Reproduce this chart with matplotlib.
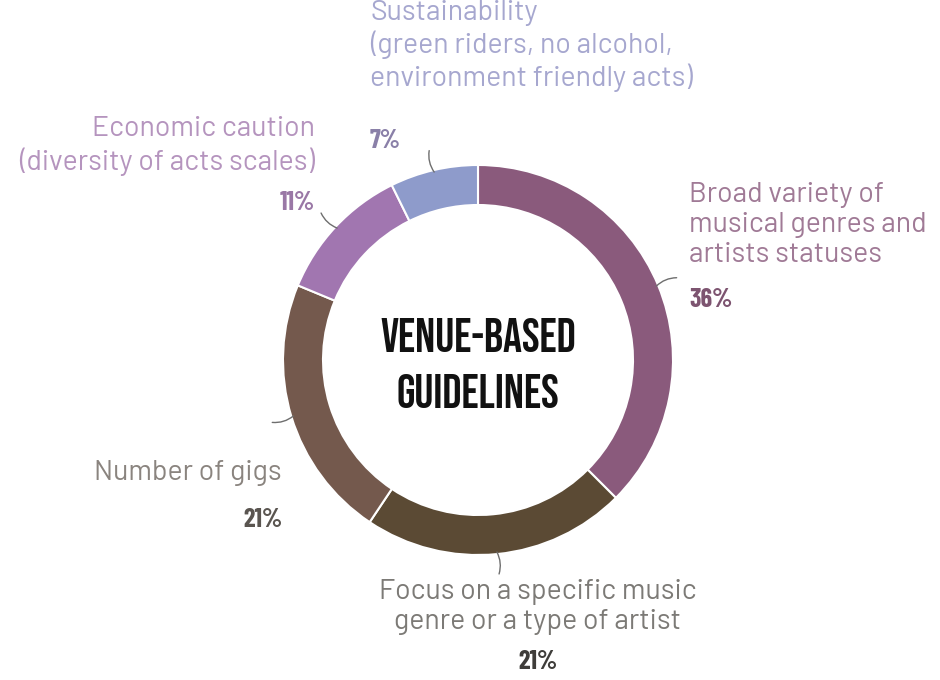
import matplotlib
matplotlib.use("Agg")
import matplotlib.pyplot as plt
import numpy as np

# Share of venue-based guidelines, clockwise from the top
labels = [
    "Broad variety of\nmusical genres and\nartists statuses",
    "Focus on a specific music\ngenre or a type of artist",
    "Number of gigs",
    "Economic caution\n(diversity of acts scales)",
    "Sustainability\n(green riders, no alcohol,\nenvironment friendly acts)",
]
values = [36, 21, 21, 11, 7]
wedge_colors = ["#8a5a7c", "#5b4a34", "#74594d", "#a176b0", "#8e9bcb"]
label_colors = ["#a07a96", "#7c7a76", "#8a847f", "#b594be", "#a6a7cf"]
pct_colors = ["#7d5470", "#3f3d3a", "#5a5550", "#9a78a6", "#8a80a8"]

W, H = 940, 680
fig = plt.figure(figsize=(W / 100, H / 100), dpi=100)
ax = fig.add_axes([0, 0, 1, 1])

cx, cy = 478, H - 360
R = 195
ring = 40

wedges, _ = ax.pie(
    values,
    colors=wedge_colors,
    startangle=90,
    counterclock=False,
    center=(cx, cy),
    radius=R,
    frame=True,
    wedgeprops=dict(width=ring, edgecolor="white", linewidth=1.5),
)
ax.set_xlim(0, W)
ax.set_ylim(0, H)
ax.set_aspect("equal")
ax.axis("off")

title_font = ["Bebas Neue", "Oswald", "DejaVu Sans"]
pct_font = ["Barlow Condensed", "Roboto Condensed", "DejaVu Sans"]
body_font = ["Barlow", "Roboto", "DejaVu Sans"]

ax.text(cx, cy - 3, "VENUE-BASED\nGUIDELINES", ha="center", va="center",
        family=title_font, fontsize=34, linespacing=1.62, color="#111111")

# label block centres and percentage positions, pixels from the top-left
anchors = [
    (689, 225, "left"),
    (538, 607, "center"),
    (282, 473, "right"),
    (315, 146, "right"),
    (370, 46, "left"),
]
pct_y = [300, 662, 520, 203, 141]

for w, lab, val, lc, pc, (x, y, ha), py in zip(
        wedges, labels, values, label_colors, pct_colors, anchors, pct_y):
    ax.text(x, H - y, lab, ha=ha, va="center", multialignment=ha,
            family=body_font, fontsize=20.5, color=lc, linespacing=1.22)
    ax.text(x, H - py, f"{val}%", ha=ha, va="center", family=pct_font,
            fontweight="bold", fontsize=19, color=pc)
    # short curved leader from the ring edge
    mid = np.deg2rad((w.theta1 + w.theta2) / 2)
    ux, uy = np.cos(mid), np.sin(mid)
    ax.annotate("", xy=(cx + (R - 2) * ux, cy + (R - 2) * uy),
                xytext=(cx + (R + 20) * ux, cy + (R + 20) * uy),
                arrowprops=dict(arrowstyle="-", color="#6e6e6e", lw=1.0,
                                shrinkA=0, shrinkB=0,
                                connectionstyle="arc3,rad=0.2"))

fig.savefig("out.png", dpi=100)
